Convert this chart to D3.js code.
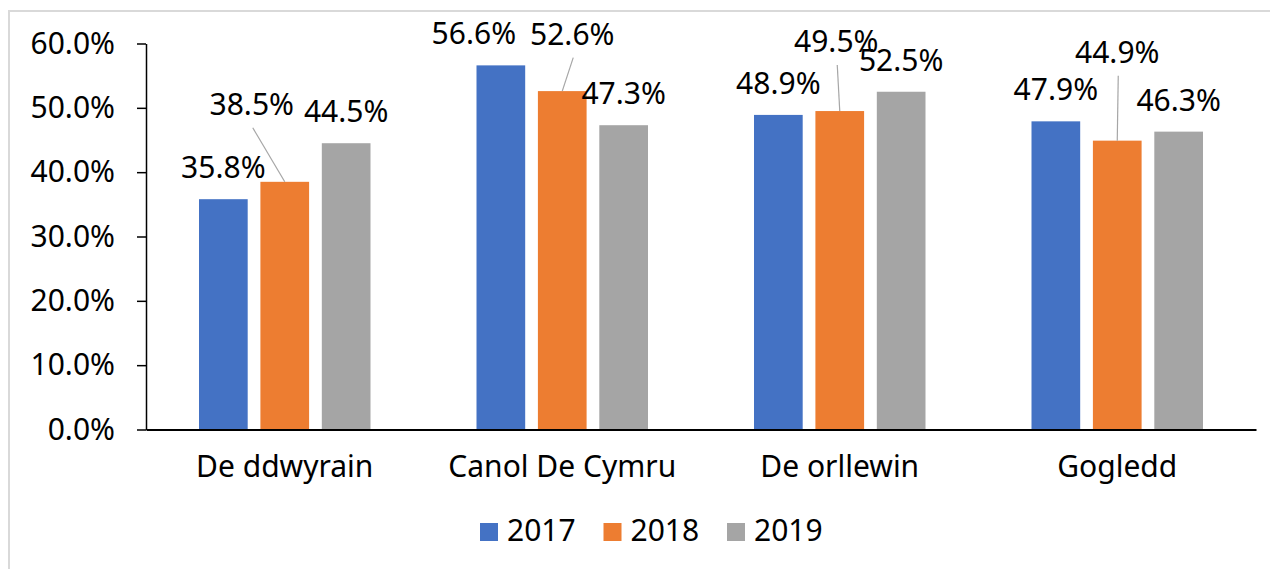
<!DOCTYPE html>
<html>
<head>
<meta charset="utf-8">
<script src="https://cdn.jsdelivr.net/npm/d3@7"></script>
<style>
  html, body { margin: 0; padding: 0; background: #fff; }
  svg { display: block; font-family: "Noto Sans", "Open Sans", sans-serif; }
</style>
</head>
<body>
<svg id="chart" width="1270" height="569"></svg>
<script>
// ---- data ----
const categories = ["De ddwyrain", "Canol De Cymru", "De orllewin", "Gogledd"];
const seriesNames = ["2017", "2018", "2019"];
const values2017 = [0.358, 0.566, 0.489, 0.479];
const values2018 = [0.385, 0.526, 0.495, 0.449];
const values2019 = [0.445, 0.473, 0.525, 0.463];
const yTicks = [0, 0.1, 0.2, 0.3, 0.4, 0.5, 0.6];

// ---- styling / layout ----
const colors = ["#4472C4", "#ED7D31", "#A5A5A5"];
const FONT = 30;
const svg = d3.select("#chart");
const W = 1270, H = 569;
const plot = { left: 146, right: 1256, top: 43.5, bottom: 429.5 };

// label manual adjustments (pixel offsets from default position), per series per category
const labelAdjust = {
  "2017": [[0, 0], [-27, 0], [0, 0], [0, 0]],
  "2018": [[-33, -46], [10, -25.5], [-3.5, -38], [0, -57]],
  "2019": [[0, 0], [0, 0], [0, 0], [0, 0]]
};
const leaderFor = { "2018": [true, true, true, true] };

const seriesData = [values2017, values2018, values2019];

// chart border
svg.append("rect")
  .attr("x", 9).attr("y", 11)
  .attr("width", 1400).attr("height", 700)
  .attr("fill", "#fff")
  .attr("stroke", "#d9d9d9").attr("stroke-width", 2);

const x = d3.scaleBand().domain(categories).range([plot.left, plot.right]).padding(0);
const groupW = 171.5;
const xs = d3.scaleBand().domain(seriesNames).range([-groupW / 2, groupW / 2]).paddingInner(0.207).paddingOuter(0);
const y = d3.scaleLinear().domain([0, 0.6]).range([plot.bottom, plot.top]);

// bars
seriesNames.forEach((s, si) => {
  svg.append("g").selectAll("rect")
    .data(categories.map((c, ci) => ({ c, v: seriesData[si][ci] })))
    .join("rect")
    .attr("x", d => x(d.c) + x.bandwidth() / 2 + xs(s))
    .attr("y", d => y(d.v))
    .attr("width", xs.bandwidth())
    .attr("height", d => y(0) - y(d.v))
    .attr("fill", colors[si]);
});

// y axis
const yAxis = svg.append("g")
  .attr("transform", `translate(${plot.left},0)`)
  .call(d3.axisLeft(y).tickValues(yTicks).tickFormat(d3.format(".1%")).tickSize(9).tickSizeOuter(0).tickPadding(22));
yAxis.selectAll("text").attr("font-size", FONT).attr("fill", "#000").attr("font-family", "Noto Sans");
yAxis.selectAll("line").attr("stroke", "#000").attr("stroke-width", 1.5);
yAxis.select(".domain").attr("stroke", "#000").attr("stroke-width", 1.5);

// x axis
const xAxis = svg.append("g")
  .attr("transform", `translate(0,${plot.bottom})`)
  .call(d3.axisBottom(x).tickSize(0).tickSizeOuter(0).tickPadding(26));
xAxis.selectAll("text").attr("font-size", FONT).attr("fill", "#000").attr("font-family", "Noto Sans");
xAxis.select(".domain").attr("stroke", "#000").attr("stroke-width", 1.8);

// data labels
const fmt = d3.format(".1%");
seriesNames.forEach((s, si) => {
  categories.forEach((c, ci) => {
    const v = seriesData[si][ci];
    const cx = x(c) + x.bandwidth() / 2 + xs(s) + xs.bandwidth() / 2;
    const top = y(v);
    const [dx, dy] = labelAdjust[s][ci];
    const lx = cx + dx, ly = top - 21 + dy;
    if (leaderFor[s] && leaderFor[s][ci]) {
      svg.append("line")
        .attr("x1", lx + 1).attr("y1", ly + 13)
        .attr("x2", cx).attr("y2", top)
        .attr("stroke", "#a6a6a6").attr("stroke-width", 1.2);
    }
    svg.append("text")
      .attr("x", lx).attr("y", ly)
      .attr("text-anchor", "middle")
      .attr("font-size", FONT).attr("fill", "#000")
      .text(fmt(v));
  });
});

// legend
const legendX0 = 480, legendStep = 123.5, legendY = 523;
const lg = svg.append("g");
seriesNames.forEach((s, si) => {
  const gx = legendX0 + si * legendStep;
  lg.append("rect").attr("x", gx).attr("y", legendY).attr("width", 18).attr("height", 18).attr("fill", colors[si]);
  lg.append("text").attr("x", gx + 27).attr("y", legendY + 18)
    .attr("font-size", FONT).attr("fill", "#000").text(s);
});
</script>
</body>
</html>
